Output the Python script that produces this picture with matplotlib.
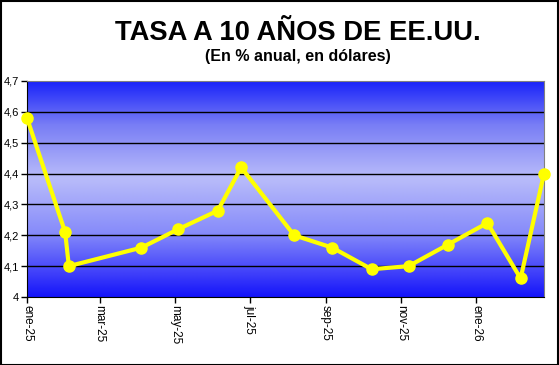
import matplotlib
matplotlib.use("Agg")
import matplotlib.pyplot as plt
import matplotlib.dates as mdates
import numpy as np
from datetime import date

plt.rcParams['font.family'] = ['Liberation Sans', 'DejaVu Sans']

fechas = [date(2025, 1, 1), date(2025, 2, 1), date(2025, 2, 4), date(2025, 4, 4),
          date(2025, 5, 4), date(2025, 6, 5), date(2025, 6, 24), date(2025, 8, 6),
          date(2025, 9, 6), date(2025, 10, 8), date(2025, 11, 7), date(2025, 12, 9),
          date(2026, 1, 10), date(2026, 2, 6), date(2026, 2, 25)]
tasa = [4.58, 4.21, 4.10, 4.16, 4.22, 4.28, 4.42, 4.20, 4.16, 4.09, 4.10, 4.17,
        4.24, 4.06, 4.40]
ticks_x = [date(2025, 1, 1), date(2025, 3, 1), date(2025, 5, 1), date(2025, 7, 1),
           date(2025, 9, 1), date(2025, 11, 1), date(2026, 1, 1)]
labels_x = ['ene-25', 'mar-25', 'may-25', 'jul-25', 'sep-25', 'nov-25', 'ene-26']
ticks_y = [4.0, 4.1, 4.2, 4.3, 4.4, 4.5, 4.6, 4.7]

W, H = 559, 365
fig = plt.figure(figsize=(W / 100, H / 100), dpi=100)
ax = fig.add_axes([27 / W, 1 - 297 / H, (544 - 27) / W, (297 - 81) / H])

x = mdates.date2num(fechas)
ax.set_xlim(x[0], x[-1])
ax.set_ylim(4.0, 4.7)

# fondo degradado azul
stops = [0.0, 0.2, 0.45, 0.7, 0.9, 1.0]
cols = np.array([[25, 35, 250], [120, 125, 245], [185, 188, 250],
                 [135, 140, 250], [60, 60, 250], [20, 20, 250]]) / 255
t = np.linspace(0, 1, 256)
grad = np.stack([np.interp(t, stops, cols[:, i]) for i in range(3)], axis=1)
ax.imshow(grad[:, None, :], extent=(x[0], x[-1], 4.0, 4.7), aspect='auto',
          origin='upper', zorder=0, interpolation='bilinear')

for v in ticks_y[1:-1]:
    ax.axhline(v, color='black', lw=1, zorder=1)

ax.plot(x, tasa, color='#ffff00', lw=3, marker='o', markersize=8, zorder=3, clip_on=False)

ax.set_yticks(ticks_y)
ax.set_yticklabels([f'{v:.1f}'.replace('.', ',').replace(',0', '') for v in ticks_y], fontsize=8)
ax.set_xticks(mdates.date2num(ticks_x))
ax.set_xticklabels(labels_x, rotation=270, fontsize=8.5, va='top', ha='center')
ax.tick_params(length=4, width=1, pad=2)

ax.spines['left'].set_color('black')
ax.spines['bottom'].set_color('black')
ax.spines['top'].set_color('#808080')
ax.spines['right'].set_color('#808080')

fig.text(298 / W, 1 - 33 / H, 'TASA A 10 AÑOS DE EE.UU.', ha='center', va='center',
         fontsize=19.7, fontweight='bold')
fig.text(298 / W, 1 - 57 / H, '(En % anual, en dólares)', ha='center', va='center',
         fontsize=11.5, fontweight='bold')

fig.patches.append(plt.Rectangle((0.5 / W, 0.5 / H), 1 - 1.5 / W, 1 - 1.5 / H,
                                 transform=fig.transFigure, fill=False,
                                 edgecolor='black', lw=1.5))

fig.savefig('out.png', dpi=100)
